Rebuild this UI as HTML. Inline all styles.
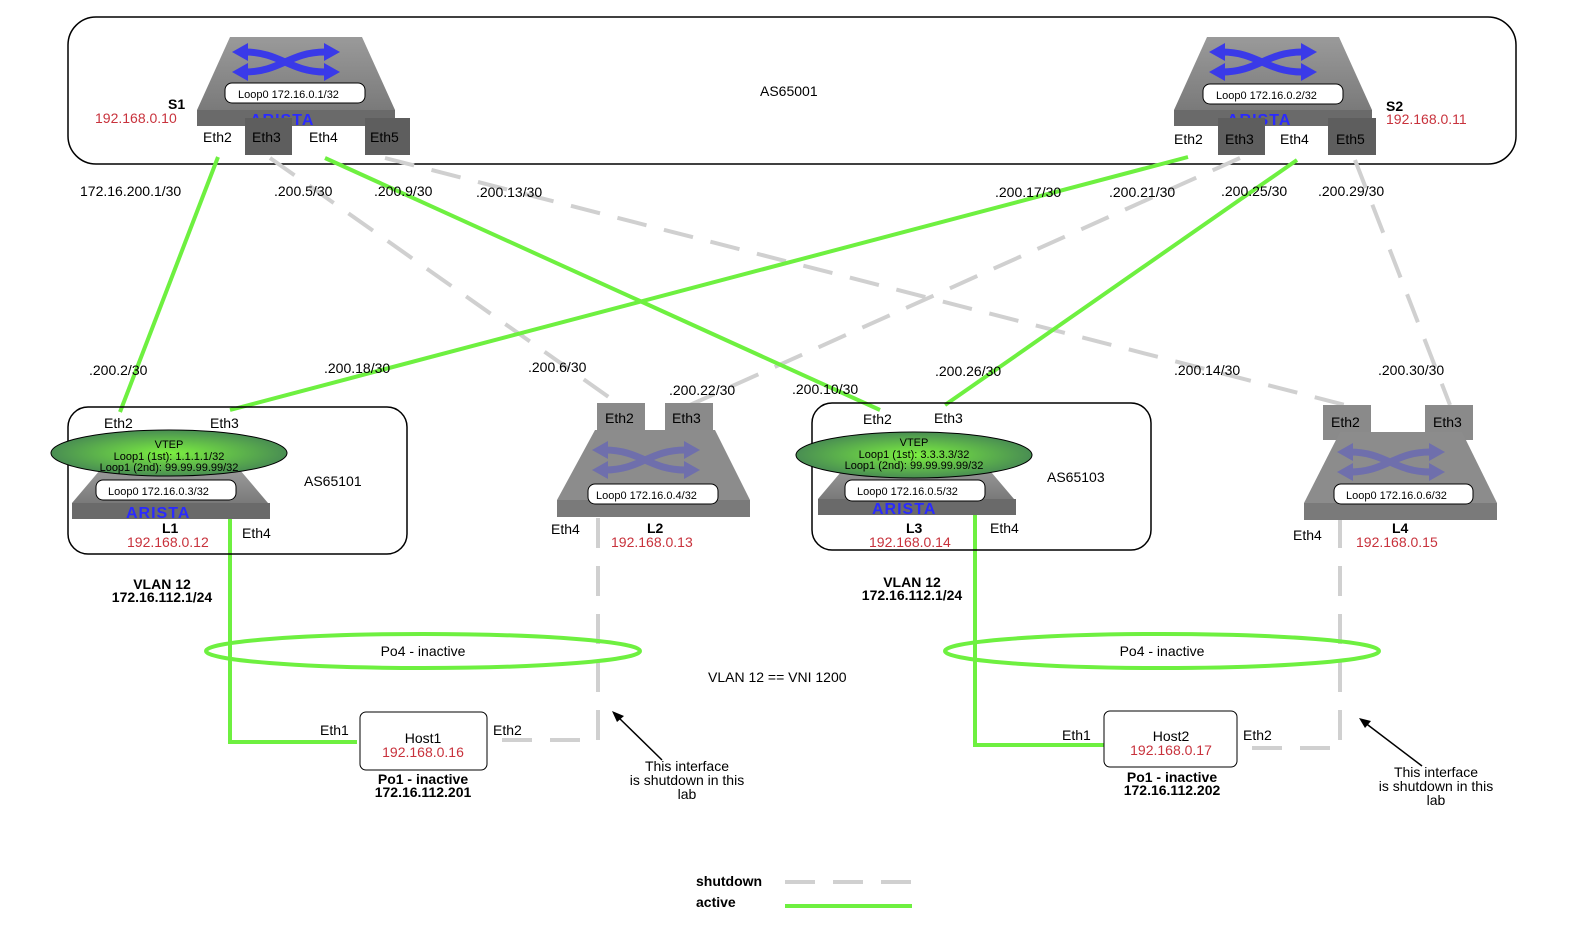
<!DOCTYPE html>
<html><head><meta charset="utf-8"><style>
body{margin:0;background:#fff}
svg{display:block;font-family:"Liberation Sans",sans-serif}
.t{font-size:14px;fill:#000}
.r{font-size:14px;fill:#c8323c}
.b{font-size:14px;font-weight:bold;fill:#000}
.s{font-size:11px;fill:#000}
.ar{font-size:16px;font-weight:bold;fill:#2a2aff;letter-spacing:1px}
</style></head><body>
<svg width="1586" height="935" viewBox="0 0 1586 935">
<defs>
<radialGradient id="vg" cx="50%" cy="50%" r="60%"><stop offset="0" stop-color="#7cf040"/><stop offset="1" stop-color="#3f7a56"/></radialGradient>
<linearGradient id="tg" x1="0" y1="0" x2="0" y2="1"><stop offset="0" stop-color="#9a9a9a"/><stop offset="1" stop-color="#7a7a7a"/></linearGradient>
<g id="xarrows">
<path d="M-55,-10 C-20,-10 -10,10 25,10 M-55,10 C-20,10 -10,-10 25,-10" fill="none" stroke="#3a3ae8" stroke-width="7"/>
<polygon points="-68,-10 -52,-19 -52,-1" fill="#3a3ae8"/><polygon points="-68,10 -52,1 -52,19" fill="#3a3ae8"/>
<polygon points="40,-10 24,-19 24,-1" fill="#3a3ae8"/><polygon points="40,10 24,1 24,19" fill="#3a3ae8"/>
</g>
</defs>

<rect x="68" y="17" width="1448" height="147" rx="28" fill="none" stroke="#000" stroke-width="1.5"/>
<text x="760" y="96" class="t">AS65001</text>

<!-- S1 -->
<polygon points="230,37 362,37 395,110 197,110" fill="url(#tg)"/>
<rect x="197" y="110" width="198" height="16" fill="#6a6a6a"/>
<use href="#xarrows" x="300" y="62"/>
<rect x="225" y="83" width="140" height="20" rx="7" fill="#fff" stroke="#000"/>
<text x="238" y="98" class="s">Loop0 172.16.0.1/32</text>
<text x="250" y="125" class="ar">ARISTA</text>
<rect x="245" y="118" width="47" height="37" fill="#5e5e5e"/>
<rect x="365" y="118" width="45" height="37" fill="#5e5e5e"/>
<text x="203" y="142" class="t">Eth2</text><text x="252" y="142" class="t">Eth3</text>
<text x="309" y="142" class="t">Eth4</text><text x="370" y="142" class="t">Eth5</text>
<text x="168" y="109" class="b">S1</text><text x="95" y="123" class="r">192.168.0.10</text>

<!-- S2 -->
<polygon points="1207,37 1339,37 1372,110 1174,110" fill="url(#tg)"/>
<rect x="1174" y="110" width="198" height="16" fill="#6a6a6a"/>
<use href="#xarrows" x="1277" y="62"/>
<rect x="1203" y="84" width="140" height="20" rx="7" fill="#fff" stroke="#000"/>
<text x="1216" y="99" class="s">Loop0 172.16.0.2/32</text>
<text x="1227" y="125" class="ar">ARISTA</text>
<rect x="1218" y="118" width="47" height="37" fill="#5e5e5e"/>
<rect x="1328" y="118" width="48" height="37" fill="#5e5e5e"/>
<text x="1174" y="144" class="t">Eth2</text><text x="1225" y="144" class="t">Eth3</text>
<text x="1280" y="144" class="t">Eth4</text><text x="1336" y="144" class="t">Eth5</text>
<text x="1386" y="111" class="b">S2</text><text x="1386" y="124" class="r">192.168.0.11</text>

<g stroke="#d0d0d0" stroke-width="4" stroke-dasharray="30,18" fill="none">
<line x1="270" y1="158" x2="620" y2="405"/>
<line x1="385" y1="158" x2="1345" y2="405"/>
<line x1="1240" y1="158" x2="690" y2="405"/>
<line x1="1355" y1="160" x2="1450" y2="405"/>
<polyline points="598,518 598,740 495,740"/>
<polyline points="1340,518 1340,748 1238,748"/>
</g>
<g stroke="#6ef040" stroke-width="4" fill="none">
<line x1="218" y1="157" x2="120" y2="412"/>
<line x1="325" y1="158" x2="880" y2="410"/>
<line x1="1188" y1="157" x2="230" y2="410"/>
<line x1="1297" y1="160" x2="945" y2="405"/>
<polyline points="230,518 230,742 357,742"/>
<polyline points="975,515 975,745 1104,745"/>
</g>

<text x="80" y="196" class="t">172.16.200.1/30</text>
<text x="274" y="196" class="t">.200.5/30</text>
<text x="374" y="196" class="t">.200.9/30</text>
<text x="476" y="197" class="t">.200.13/30</text>
<text x="995" y="197" class="t">.200.17/30</text>
<text x="1109" y="197" class="t">.200.21/30</text>
<text x="1221" y="196" class="t">.200.25/30</text>
<text x="1318" y="196" class="t">.200.29/30</text>
<text x="89" y="375" class="t">.200.2/30</text>
<text x="324" y="373" class="t">.200.18/30</text>
<text x="528" y="372" class="t">.200.6/30</text>
<text x="669" y="395" class="t">.200.22/30</text>
<text x="792" y="394" class="t">.200.10/30</text>
<text x="935" y="376" class="t">.200.26/30</text>
<text x="1174" y="375" class="t">.200.14/30</text>
<text x="1378" y="375" class="t">.200.30/30</text>

<!-- L1 -->
<rect x="68" y="407" width="339" height="147" rx="20" fill="none" stroke="#000" stroke-width="1.5"/>
<polygon points="100,470 240,470 268,503 72,503" fill="url(#tg)"/>
<rect x="72" y="503" width="198" height="16" fill="#6a6a6a"/>
<text x="126" y="518" class="ar">ARISTA</text>
<ellipse cx="169" cy="453" rx="118" ry="23" fill="url(#vg)" stroke="#000"/>
<text x="169" y="448" class="s" text-anchor="middle">VTEP</text>
<text x="169" y="460" class="s" text-anchor="middle">Loop1 (1st): 1.1.1.1/32</text>
<text x="169" y="471" class="s" text-anchor="middle">Loop1 (2nd): 99.99.99.99/32</text>
<rect x="96" y="480" width="140" height="20" rx="7" fill="#fff" stroke="#000"/>
<text x="108" y="495" class="s">Loop0 172.16.0.3/32</text>
<text x="104" y="428" class="t">Eth2</text><text x="210" y="428" class="t">Eth3</text>
<text x="242" y="538" class="t">Eth4</text>
<text x="162" y="533" class="b">L1</text><text x="127" y="547" class="r">192.168.0.12</text>
<text x="304" y="486" class="t">AS65101</text>

<!-- L2 -->
<rect x="597" y="403" width="48" height="28" fill="#8a8a8a"/>
<rect x="665" y="403" width="48" height="28" fill="#8a8a8a"/>
<polygon points="595,430 715,430 750,500 557,500" fill="#8c8c8c"/>
<rect x="557" y="500" width="193" height="17" fill="#7a7a7a"/>
<g opacity="0.35"><use href="#xarrows" x="660" y="460"/></g>
<rect x="588" y="484" width="130" height="20" rx="7" fill="#fff" stroke="#000"/>
<text x="596" y="499" class="s">Loop0 172.16.0.4/32</text>
<text x="605" y="423" class="t">Eth2</text><text x="672" y="423" class="t">Eth3</text>
<text x="551" y="534" class="t">Eth4</text>
<text x="647" y="533" class="b">L2</text><text x="611" y="547" class="r">192.168.0.13</text>

<!-- L3 -->
<rect x="812" y="403" width="339" height="147" rx="20" fill="none" stroke="#000" stroke-width="1.5"/>
<polygon points="846,466 986,466 1014,499 818,499" fill="url(#tg)"/>
<rect x="818" y="499" width="198" height="16" fill="#6a6a6a"/>
<text x="872" y="514" class="ar">ARISTA</text>
<ellipse cx="914" cy="455" rx="118" ry="23" fill="url(#vg)" stroke="#000"/>
<text x="914" y="446" class="s" text-anchor="middle">VTEP</text>
<text x="914" y="458" class="s" text-anchor="middle">Loop1 (1st): 3.3.3.3/32</text>
<text x="914" y="469" class="s" text-anchor="middle">Loop1 (2nd): 99.99.99.99/32</text>
<rect x="845" y="480" width="140" height="21" rx="7" fill="#fff" stroke="#000"/>
<text x="857" y="495" class="s">Loop0 172.16.0.5/32</text>
<text x="863" y="424" class="t">Eth2</text><text x="934" y="423" class="t">Eth3</text>
<text x="990" y="533" class="t">Eth4</text>
<text x="906" y="533" class="b">L3</text><text x="869" y="547" class="r">192.168.0.14</text>
<text x="1047" y="482" class="t">AS65103</text>

<!-- L4 -->
<rect x="1323" y="405" width="48" height="35" fill="#8a8a8a"/>
<rect x="1425" y="405" width="48" height="35" fill="#8a8a8a"/>
<polygon points="1340,432 1462,432 1497,503 1304,503" fill="#8c8c8c"/>
<rect x="1304" y="503" width="193" height="17" fill="#7a7a7a"/>
<g opacity="0.35"><use href="#xarrows" x="1405" y="462"/></g>
<rect x="1334" y="484" width="139" height="20" rx="7" fill="#fff" stroke="#000"/>
<text x="1346" y="499" class="s">Loop0 172.16.0.6/32</text>
<text x="1331" y="427" class="t">Eth2</text><text x="1433" y="427" class="t">Eth3</text>
<text x="1293" y="540" class="t">Eth4</text>
<text x="1392" y="533" class="b">L4</text><text x="1356" y="547" class="r">192.168.0.15</text>

<text x="162" y="589" class="b" text-anchor="middle">VLAN 12</text>
<text x="162" y="602" class="b" text-anchor="middle">172.16.112.1/24</text>
<text x="912" y="587" class="b" text-anchor="middle">VLAN 12</text>
<text x="912" y="600" class="b" text-anchor="middle">172.16.112.1/24</text>

<ellipse cx="423" cy="651" rx="217" ry="17" fill="none" stroke="#6ef040" stroke-width="4"/>
<text x="423" y="656" class="t" text-anchor="middle">Po4 - inactive</text>
<ellipse cx="1162" cy="651" rx="217" ry="17" fill="none" stroke="#6ef040" stroke-width="4"/>
<text x="1162" y="656" class="t" text-anchor="middle">Po4 - inactive</text>
<text x="708" y="682" class="t">VLAN 12 == VNI 1200</text>

<rect x="360" y="712" width="127" height="58" rx="6" fill="#fff" stroke="#000"/>
<text x="423" y="743" class="t" text-anchor="middle">Host1</text>
<text x="423" y="757" class="r" text-anchor="middle">192.168.0.16</text>
<text x="320" y="735" class="t">Eth1</text><text x="493" y="735" class="t">Eth2</text>
<text x="423" y="784" class="b" text-anchor="middle">Po1 - inactive</text>
<text x="423" y="797" class="b" text-anchor="middle">172.16.112.201</text>

<rect x="1104" y="711" width="133" height="56" rx="6" fill="#fff" stroke="#000"/>
<text x="1171" y="741" class="t" text-anchor="middle">Host2</text>
<text x="1171" y="755" class="r" text-anchor="middle">192.168.0.17</text>
<text x="1062" y="740" class="t">Eth1</text><text x="1243" y="740" class="t">Eth2</text>
<text x="1172" y="782" class="b" text-anchor="middle">Po1 - inactive</text>
<text x="1172" y="795" class="b" text-anchor="middle">172.16.112.202</text>

<line x1="662" y1="760" x2="617" y2="716" stroke="#000" stroke-width="1.5"/>
<polygon points="612,711 624,716 617,722" fill="#000"/>
<text x="687" y="771" class="t" text-anchor="middle">This interface</text>
<text x="687" y="785" class="t" text-anchor="middle">is shutdown in this</text>
<text x="687" y="799" class="t" text-anchor="middle">lab</text>
<line x1="1422" y1="766" x2="1364" y2="722" stroke="#000" stroke-width="1.5"/>
<polygon points="1359,718 1371,721 1365,728" fill="#000"/>
<text x="1436" y="777" class="t" text-anchor="middle">This interface</text>
<text x="1436" y="791" class="t" text-anchor="middle">is shutdown in this</text>
<text x="1436" y="805" class="t" text-anchor="middle">lab</text>

<text x="696" y="886" class="b">shutdown</text>
<line x1="785" y1="882" x2="912" y2="882" stroke="#d0d0d0" stroke-width="4" stroke-dasharray="30,18"/>
<text x="696" y="907" class="b">active</text>
<line x1="785" y1="906" x2="912" y2="906" stroke="#6ef040" stroke-width="4"/>
</svg>
</body></html>
